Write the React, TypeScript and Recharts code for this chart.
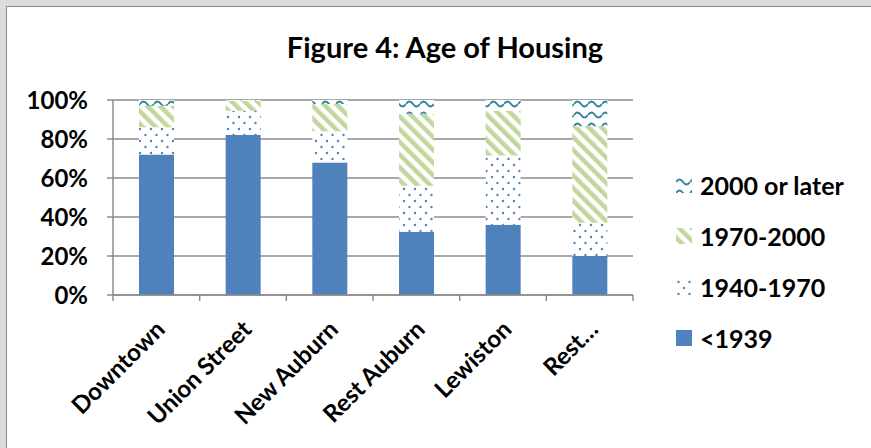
import React from "react";
import { BarChart, Bar, XAxis, YAxis, CartesianGrid } from "recharts";

const categories = ["Downtown", "Union Street", "New Auburn", "Rest Auburn", "Lewiston", "Rest\u2026"];
const pre1939 = [72, 82, 68, 32.5, 36, 20];
const y1940to1970 = [14, 12.5, 16, 23.5, 35.5, 17];
const y1970to2000 = [11, 5, 14, 37, 23, 49.5];
const y2000plus = [3, 0.5, 2, 7, 5.5, 13.5];
const yTicks = [0, 20, 40, 60, 80, 100];

const data = categories.map((name, i) => ({
  name,
  pre1939: pre1939[i],
  y1940: y1940to1970[i],
  y1970: y1970to2000[i],
  y2000: y2000plus[i],
}));

const FONT = "Lato, 'Open Sans', sans-serif";
const GRID = "#8c8c8c";

const legendItems = [
  { label: "2000 or later", fill: "url(#pWave)" },
  { label: "1970-2000", fill: "url(#pStripe)" },
  { label: "1940-1970", fill: "url(#pDots)" },
  { label: "<1939", fill: "#4f81bd" },
];

function XTick(props: any) {
  const { x, y, payload, index, width, visibleTicksCount } = props;
  const n = visibleTicksCount || 6;
  const bw = (width || 520) / n;
  const last = index === n - 1;
  return (
    <g>
      <line x1={x - bw / 2} x2={x - bw / 2} y1={y} y2={y + 6} stroke={GRID} strokeWidth={1.5} />
      {last && <line x1={x + bw / 2} x2={x + bw / 2} y1={y} y2={y + 6} stroke={GRID} strokeWidth={1.5} />}
      <text
        x={x + 10}
        y={y + 36}
        textAnchor="end"
        transform={`rotate(-45, ${x + 10}, ${y + 36})`}
        fontFamily={FONT}
        fontWeight={700}
        fontSize={24}
        fill="#000"
      >
        {payload.value}
      </text>
    </g>
  );
}

function LegendBox() {
  return (
    <div style={{ position: "absolute", left: 676, top: 159, fontFamily: FONT, fontWeight: 700, fontSize: 25, color: "#000" }}>
      {legendItems.map((it) => (
        <div key={it.label} style={{ display: "flex", alignItems: "center", height: 51, whiteSpace: "nowrap" }}>
          <svg width={16} height={16} style={{ marginRight: 8 }}>
            <rect width={16} height={16} fill={it.fill} />
          </svg>
          <span>{it.label}</span>
        </div>
      ))}
    </div>
  );
}

export default function App() {
  return (
    <div style={{ position: "absolute", left: 0, top: 0, width: 871, height: 448, background: "#dcdcdc", overflow: "hidden" }}>
      <svg width={0} height={0} style={{ position: "absolute" }}>
        <defs>
          <pattern id="pDots" patternUnits="userSpaceOnUse" width={11} height={12}>
            <rect width={11} height={12} fill="#fff" />
            <circle cx={2.5} cy={3} r={1.2} fill="#4f81bd" />
            <circle cx={8} cy={9} r={1.2} fill="#4f81bd" />
          </pattern>
          <pattern id="pStripe" patternUnits="userSpaceOnUse" width={9} height={9} patternTransform="rotate(-45)">
            <rect width={9} height={9} fill="#fff" />
            <rect width={4.5} height={9} fill="#c3d69b" />
          </pattern>
          <pattern id="pWave" patternUnits="userSpaceOnUse" width={14} height={11}>
            <rect width={14} height={11} fill="#fff" />
            <path d="M0 5 Q3.5 0 7 5 T14 5" fill="none" stroke="#31859c" strokeWidth={2} />
          </pattern>
        </defs>
      </svg>
      <div style={{ position: "absolute", left: 6, top: 6, width: 880, height: 460, background: "#fff", borderLeft: `1.5px solid ${GRID}`, borderTop: `1.5px solid ${GRID}` }} />
      <div style={{ position: "absolute", left: 0, width: 890, top: 29, textAlign: "center", fontFamily: FONT, fontWeight: 700, fontSize: 29 }}>
        Figure 4: Age of Housing
      </div>
      <div style={{ position: "absolute", left: 0, top: 0 }}>
        <BarChart width={871} height={448} data={data} margin={{ top: 100, left: 33, right: 238, bottom: 3 }} barSize={35}>
          <CartesianGrid vertical={false} stroke={GRID} strokeWidth={1.5} />
          <XAxis
            dataKey="name"
            interval={0}
            height={150}
            tickLine={false}
            tickSize={0}
            tickMargin={0}
            axisLine={{ stroke: GRID, strokeWidth: 1.5 }}
            tick={<XTick />}
          />
          <YAxis
            width={80}
            domain={[0, 100]}
            ticks={yTicks}
            tickFormatter={(v: number) => `${v}%`}
            tickSize={6}
            tickMargin={19}
            tickLine={{ stroke: GRID, strokeWidth: 1.5 }}
            axisLine={{ stroke: GRID, strokeWidth: 1.5 }}
            tick={{ fontFamily: FONT, fontWeight: 700, fontSize: 24, fill: "#000" }}
          />
          <Bar dataKey="pre1939" stackId="a" fill="#4f81bd" isAnimationActive={false} />
          <Bar dataKey="y1940" stackId="a" fill="url(#pDots)" isAnimationActive={false} />
          <Bar dataKey="y1970" stackId="a" fill="url(#pStripe)" isAnimationActive={false} />
          <Bar dataKey="y2000" stackId="a" fill="url(#pWave)" isAnimationActive={false} />
        </BarChart>
      </div>
      <LegendBox />
    </div>
  );
}
